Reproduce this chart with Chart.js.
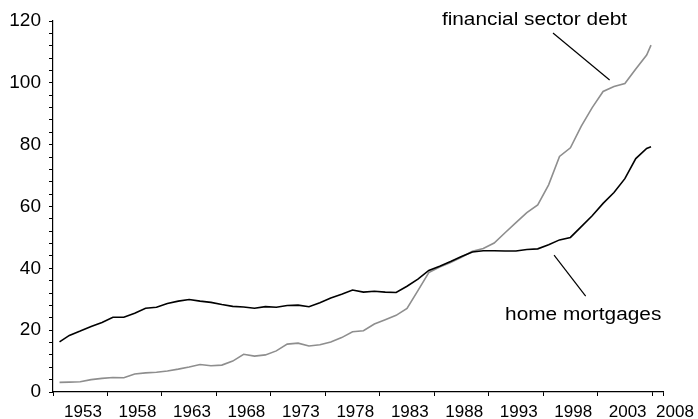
<!DOCTYPE html>
<html>
<head>
<meta charset="utf-8">
<script src="https://cdn.jsdelivr.net/npm/chart.js@4.4.1/dist/chart.umd.min.js"></script>
<style>
  html, body { margin: 0; padding: 0; background: #fff; }
  #wrap { width: 698px; height: 419px; position: relative; }
</style>
</head>
<body>
<div id="wrap"><canvas id="chart"></canvas></div>
<script>
// readings, roughly one per year
const years = [
  1953.6, 1954.5, 1955.5, 1956.5, 1957.5, 1958.5, 1959.5, 1960.5, 1961.5, 1962.5,
  1963.5, 1964.5, 1965.5, 1966.5, 1967.5, 1968.5, 1969.5, 1970.5, 1971.5, 1972.5,
  1973.5, 1974.5, 1975.5, 1976.5, 1977.5, 1978.5, 1979.5, 1980.5, 1981.5, 1982.5,
  1983.5, 1984.5, 1985.5, 1986.5, 1987.5, 1988.5, 1989.5, 1990.5, 1991.5, 1992.5,
  1993.5, 1994.5, 1995.5, 1996.5, 1997.5, 1998.5, 1999.5, 2000.5, 2001.5, 2002.5,
  2003.5, 2004.5, 2005.5, 2006.5, 2007.5, 2007.9
]

const homeMortgages = [
  16.2, 18.3, 19.7, 21.2, 22.5, 24.2, 24.2, 25.5, 27.1, 27.4,
  28.6, 29.4, 29.9, 29.4, 29.0, 28.3, 27.7, 27.5, 27.1, 27.6,
  27.4, 28.0, 28.1, 27.6, 28.9, 30.4, 31.6, 33.0, 32.3, 32.6,
  32.3, 32.2, 34.2, 36.5, 39.3, 40.7, 42.2, 43.8, 45.3, 45.7,
  45.7, 45.6, 45.6, 46.1, 46.3, 47.6, 49.2, 50.0, 53.5, 57.0,
  61.0, 64.5, 69.0, 75.5, 78.8, 79.3
]

const financialDebt = [
  3.1, 3.2, 3.3, 4.0, 4.4, 4.7, 4.6, 5.8, 6.2, 6.4,
  6.8, 7.4, 8.1, 8.9, 8.5, 8.7, 10.0, 12.2, 11.6, 12.0,
  13.3, 15.5, 15.8, 14.9, 15.3, 16.2, 17.6, 19.5, 19.8, 22.0,
  23.4, 24.8, 27.0, 32.8, 38.6, 40.4, 41.9, 43.6, 45.5, 46.4,
  48.2, 51.5, 54.8, 58.0, 60.5, 67.0, 76.2, 79.0, 86.0, 92.0,
  97.2, 98.8, 99.8, 104.5, 109.0, 112.2
]

const yearLabels = [1953, 1958, 1963, 1968, 1973, 1978, 1983, 1988, 1993, 1998, 2003, 2008]
const xEnd = 2009

// callout texts with their leader lines, in data units
const notes = [
  {text: 'financial sector debt', x: 1988.7, y: 118.7, from: [1998.9, 116.1], to: [2004.1, 100.9]},
  {text: 'home mortgages', x: 1994.5, y: 23.3, from: [1999.0, 44.3], to: [2001.9, 31.0]}
]

const FONT = '"Liberation Sans", Arial, sans-serif'

const callouts = {
  id: 'callouts',
  afterDraw(chart){
    const {ctx, scales: {x, y}} = chart
    ctx.save()
    ctx.strokeStyle = '#000'
    ctx.lineWidth = 1.2
    ctx.fillStyle = '#000'
    ctx.font = '17.5px ' + FONT
    ctx.textBaseline = 'alphabetic'
    notes.forEach(n => {
      ctx.beginPath()
      ctx.moveTo(x.getPixelForValue(n.from[0]), y.getPixelForValue(n.from[1]))
      ctx.lineTo(x.getPixelForValue(n.to[0]), y.getPixelForValue(n.to[1]))
      ctx.stroke()
      ctx.save()
      ctx.translate(x.getPixelForValue(n.x), y.getPixelForValue(n.y))
      ctx.scale(1.19, 1)
      ctx.fillText(n.text, 0, 0)
      ctx.restore()
    })
    ctx.restore()
  }
}

const ctx = document.getElementById('chart').getContext('2d')
const chart = new Chart(ctx, {
  type: 'line',
  data: {
    datasets: [
      {label: 'home mortgages', data: years.map((yr, i) => ({x: yr, y: homeMortgages[i]})),
        borderColor: '#000', borderWidth: 1.6, pointRadius: 0, tension: 0},
      {label: 'financial sector debt', data: years.map((yr, i) => ({x: yr, y: financialDebt[i]})),
        borderColor: '#8e8e8e', borderWidth: 1.6, pointRadius: 0, tension: 0}
    ]
  },
  options: {
    responsive: true,
    maintainAspectRatio: false,
    animation: false,
    layout: {padding: {top: 21, right: 35, left: 0, bottom: 0}},
    plugins: {legend: {display: false}, tooltip: {enabled: false}},
    scales: {
      x: {
        type: 'linear', min: yearLabels[0], max: xEnd,
        afterBuildTicks: s => { s.ticks = yearLabels.concat([xEnd]).map(v => ({value: v})) },
        afterFit: s => { s.height = 27 },
        grid: {drawOnChartArea: false, tickLength: 4, color: '#000'},
        border: {color: '#000', width: 1.2},
        ticks: {
          autoSkip: false, maxRotation: 0, labelOffset: 30, padding: 6, color: '#000',
          font: {family: FONT, size: 17},
          // the last label sits in the short final interval, pad it so it stays on the page
          callback: v => v === 2008 ? '2008   ' : (yearLabels.includes(v) ? String(v) : '')
        }
      },
      y: {
        min: 0, max: 120,
        afterFit: s => { s.width = 53 },
        grid: {drawOnChartArea: false, tickLength: 4, color: '#000'},
        border: {color: '#000', width: 1.2},
        ticks: {
          stepSize: 4, autoSkip: false, padding: 8, color: '#000',
          font: {family: FONT, size: 19},
          callback: v => v % 20 === 0 ? String(v) : ''
        }
      }
    }
  },
  plugins: [callouts]
})
</script>
</body>
</html>
